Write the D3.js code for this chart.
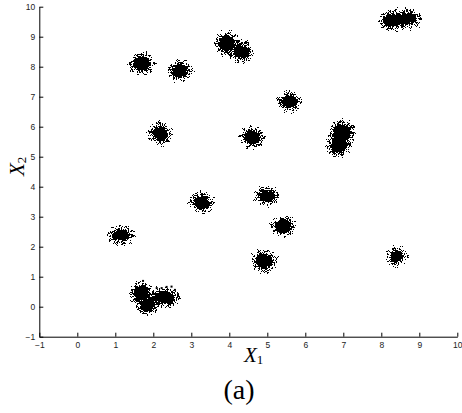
<!DOCTYPE html>
<html>
<head>
<meta charset="utf-8">
<script src="https://cdn.jsdelivr.net/npm/d3@7"></script>
<style>
  body { margin: 0; background: #fff; }
</style>
</head>
<body>
<div id="grafico"></div>
<script>
// Tamaño de la figura
const w = 462;
const h = 413;

// Centros de los grupos (X1, X2) y su dispersión en unidades de datos
const centroX = [8.30, 8.70, 1.70, 2.70, 3.93, 4.32, 5.59, 2.18, 4.60, 6.97, 6.88, 3.27, 4.98, 5.42, 4.92, 1.15, 8.40, 1.70, 1.85, 2.30];
const centroY = [9.55, 9.60, 8.10, 7.87, 8.78, 8.50, 6.84, 5.77, 5.64, 5.80, 5.38, 3.47, 3.70, 2.68, 1.52, 2.38, 1.67, 0.45, 0.05, 0.30];
const dispX   = [0.26, 0.25, 0.24, 0.22, 0.22, 0.22, 0.22, 0.20, 0.22, 0.25, 0.22, 0.22, 0.22, 0.22, 0.25, 0.24, 0.18, 0.22, 0.20, 0.28];
const dispY   = [0.22, 0.20, 0.25, 0.24, 0.28, 0.24, 0.22, 0.26, 0.24, 0.30, 0.28, 0.24, 0.20, 0.24, 0.26, 0.20, 0.20, 0.28, 0.22, 0.22];

// Puntos sueltos junto al grupo de abajo a la izquierda
const suelto1 = [2.09, 2.22, 2.35, 2.48, 2.57, 2.65, 1.73];
const suelto2 = [0.62, 0.62, 0.66, 0.67, 0.56, 0.42, 0.86];

// Marcas de los ejes
const marcasX = [-1, 0, 1, 2, 3, 4, 5, 6, 7, 8, 9, 10];
const marcasY = [-1, 0, 1, 2, 3, 4, 5, 6, 7, 8, 9, 10];

const xScale = d3.scaleLinear().domain([-1, 10]).range([39.3, 457.3]);
const yScale = d3.scaleLinear().domain([-1, 10]).range([336.7, 6.7]);

const svg = d3.select('#grafico')
  .append('svg')
  .attr('width', w)
  .attr('height', h);

// Filtro: desplaza con ruido y endurece el borde para que parezcan puntos
const filtro = svg.append('defs').append('filter')
  .attr('id', 'grumo')
  .attr('x', '-50%').attr('y', '-50%')
  .attr('width', '200%').attr('height', '200%');
filtro.append('feTurbulence')
  .attr('type', 'fractalNoise')
  .attr('baseFrequency', 0.8)
  .attr('numOctaves', 2)
  .attr('seed', 7)
  .attr('result', 'ruido');
filtro.append('feDisplacementMap')
  .attr('in', 'SourceGraphic')
  .attr('in2', 'ruido')
  .attr('scale', 7)
  .attr('xChannelSelector', 'R')
  .attr('yChannelSelector', 'G')
  .attr('result', 'movido');
filtro.append('feComponentTransfer')
  .attr('in', 'movido')
  .append('feFuncA')
  .attr('type', 'discrete')
  .attr('tableValues', '0 1 1');

const grupos = centroX.map((cx, i) => [cx, centroY[i], dispX[i], dispY[i]]);
const radioX = (d) => xScale(d[0] + d[2]) - xScale(d[0]);
const radioY = (d) => yScale(d[1]) - yScale(d[1] + d[3]);

const nubes = svg.append('g').attr('filter', 'url(#grumo)');

// Núcleo denso
nubes.selectAll('ellipse.nucleo')
  .data(grupos)
  .enter()
  .append('ellipse')
  .attr('class', 'nucleo')
  .attr('cx', (d) => xScale(d[0]))
  .attr('cy', (d) => yScale(d[1]))
  .attr('rx', radioX)
  .attr('ry', radioY)
  .attr('fill', '#000');

// Halo de puntos dispersos alrededor
nubes.selectAll('ellipse.halo')
  .data(grupos)
  .enter()
  .append('ellipse')
  .attr('class', 'halo')
  .attr('cx', (d) => xScale(d[0]))
  .attr('cy', (d) => yScale(d[1]))
  .attr('rx', (d) => radioX(d) + 1.8)
  .attr('ry', (d) => radioY(d) + 1.8)
  .attr('fill', 'none')
  .attr('stroke', '#000')
  .attr('stroke-width', 1.6)
  .attr('stroke-dasharray', '1.6 1.8');

// Segundo halo, más ralo
nubes.selectAll('ellipse.halo2')
  .data(grupos)
  .enter()
  .append('ellipse')
  .attr('class', 'halo2')
  .attr('cx', (d) => xScale(d[0]))
  .attr('cy', (d) => yScale(d[1]))
  .attr('rx', (d) => radioX(d) + 3.8)
  .attr('ry', (d) => radioY(d) + 3.8)
  .attr('fill', 'none')
  .attr('stroke', '#000')
  .attr('stroke-width', 1.4)
  .attr('stroke-dasharray', '1.4 6');

svg.selectAll('rect.suelto')
  .data(suelto1.map((v, i) => [v, suelto2[i]]))
  .enter()
  .append('rect')
  .attr('class', 'suelto')
  .attr('x', (d) => xScale(d[0]) - 1)
  .attr('y', (d) => yScale(d[1]) - 1)
  .attr('width', 2)
  .attr('height', 2)
  .attr('fill', '#000');

// Eje horizontal
const ejeX = svg.append('g')
  .attr('transform', 'translate(0,' + yScale(-1) + ')')
  .call(d3.axisBottom(xScale)
    .tickValues(marcasX)
    .tickSizeInner(-4)
    .tickSizeOuter(0)
    .tickPadding(5));

// Eje vertical
const ejeY = svg.append('g')
  .attr('transform', 'translate(' + xScale(-1) + ',0)')
  .call(d3.axisLeft(yScale)
    .tickValues(marcasY)
    .tickSizeInner(-4)
    .tickSizeOuter(0)
    .tickPadding(4));

[ejeX, ejeY].forEach(function (eje) {
  eje.selectAll('text')
    .style('font-family', '"Liberation Sans", Arial, sans-serif')
    .style('font-size', '8.5px')
    .attr('fill', '#222');
  eje.selectAll('line, path').attr('stroke', '#000');
});

// Etiqueta X1
const etX = svg.append('text')
  .attr('x', 244)
  .attr('y', 362)
  .style('font-family', '"Liberation Serif", serif');
etX.append('tspan')
  .style('font-style', 'italic')
  .style('font-size', '21px')
  .text('X');
etX.append('tspan')
  .attr('dy', 2)
  .style('font-size', '13px')
  .text('1');

// Etiqueta X2
const etY = svg.append('text')
  .attr('transform', 'translate(24,176)rotate(-90)')
  .style('font-family', '"Liberation Serif", serif');
etY.append('tspan')
  .style('font-style', 'italic')
  .style('font-size', '21px')
  .text('X');
etY.append('tspan')
  .attr('dy', 2)
  .style('font-size', '13px')
  .text('2');

// Rótulo del panel
svg.append('text')
  .attr('x', 239)
  .attr('y', 399)
  .attr('text-anchor', 'middle')
  .style('font-family', '"Liberation Serif", serif')
  .style('font-size', '28px')
  .text('(a)');
</script>
</body>
</html>
